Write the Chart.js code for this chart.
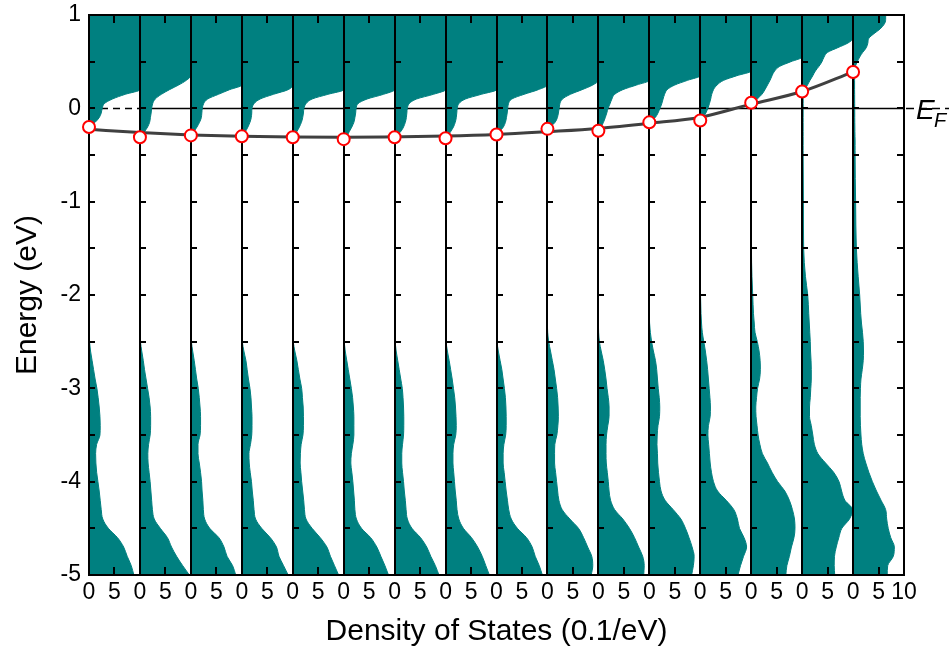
<!DOCTYPE html>
<html>
<head>
<meta charset="utf-8">
<script src="https://cdn.jsdelivr.net/npm/chart.js@4/dist/chart.umd.min.js"></script>
<style>html,body{margin:0;padding:0;background:#fff;}canvas{display:block;}</style>
</head>
<body>
<canvas id="c" width="949" height="651"></canvas>
<script>
// Energy grid (eV), shared by all 16 panels
const energy = [-5.0,-4.9,-4.8,-4.7,-4.6,-4.5,-4.4,-4.3,-4.2,-4.1,-4.0,-3.9,-3.8,-3.7,-3.6,-3.5,-3.4,-3.3,-3.2,-3.1,-3.0,-2.9,-2.8,-2.7,-2.6,-2.5,-2.4,-2.3,-2.2,
  -2.0,-1.8,-1.5,-1.0,
  -0.5,-0.45,-0.4,-0.35,-0.3,-0.25,-0.2,-0.15,-0.1,-0.05,0,0.05,0.1,0.15,0.2,0.25,0.3,0.35,0.4,0.45,0.5,0.55,0.6,0.65,0.7,0.75,0.8,0.85,0.9,0.95,1.0];

// Density of states (0.1/eV) per panel, values of 10 mean the panel is filled
const dos01 = [8.8,8.3,7.5,6.8,5.6,3.8,2.7,2.4,2.2,2.0,1.75,1.5,1.35,1.3,1.5,2.15,2.2,2.15,2.0,1.8,1.55,1.2,0.9,0.6,0.3,0.1,0,0,0, 0,0,0,0,
  0,0,0,0,0,0,0.2,1.2,2.0,2.4,2.6,3.0,4.6,7.1,10,10,10,10,10,10,10,10,10,10,10,10,10,10,10,10,10];
const dos02 = [9.7,8.4,7.2,6.2,5.4,4.0,2.8,2.45,2.3,2.15,2.0,1.8,1.6,1.55,1.7,2.0,2.1,2.1,2.0,1.8,1.5,1.2,0.9,0.65,0.35,0.1,0,0,0, 0,0,0,0,
  0,0,0,0,0.1,0.9,1.5,1.9,2.05,2.2,2.3,2.5,3.0,4.2,5.8,7.6,9.1,10,10,10,10,10,10,10,10,10,10,10,10,10,10];
const dos03 = [8.8,8.2,7.1,6.5,5.5,3.7,2.7,2.45,2.35,2.2,2.1,1.9,1.65,1.4,1.4,1.8,1.9,1.9,1.8,1.65,1.45,1.15,0.9,0.65,0.35,0.1,0,0,0, 0,0,0,0,
  0,0,0,0,0.05,0.6,1.2,1.7,2.05,2.15,2.25,2.5,3.3,5.4,7.6,10,10,10,10,10,10,10,10,10,10,10,10,10,10,10,10];
const dos04 = [9.1,8.2,7.3,6.8,5.6,3.9,2.7,2.4,2.25,2.05,1.9,1.65,1.45,1.4,1.7,1.95,2.0,2.0,1.9,1.8,1.6,1.3,1.05,0.8,0.4,0.1,0,0,0, 0,0,0,0,
  0,0,0,0,0.05,0.7,1.2,1.6,1.85,1.95,2.0,2.4,3.6,6.2,9.1,10,10,10,10,10,10,10,10,10,10,10,10,10,10,10,10];
const dos05 = [9.0,8.2,7.4,6.7,5.4,3.8,2.6,2.3,2.15,1.95,1.75,1.6,1.45,1.5,1.65,2.0,2.1,2.1,2.05,1.9,1.75,1.4,1.1,0.8,0.4,0.1,0,0,0, 0,0,0,0,
  0,0,0,0,0.1,0.8,1.3,1.7,1.95,2.1,2.2,2.6,3.8,6.9,10,10,10,10,10,10,10,10,10,10,10,10,10,10,10,10,10];
const dos06 = [8.8,8.1,7.3,6.5,5.3,3.5,2.5,2.2,2.1,1.95,1.8,1.6,1.4,1.5,1.8,2.0,2.0,2.0,1.9,1.75,1.5,1.2,0.9,0.6,0.3,0.1,0,0,0, 0,0,0,0,
  0,0,0,0,0.6,1.1,1.6,2.0,2.2,2.35,2.45,2.8,4.6,7.8,10,10,10,10,10,10,10,10,10,10,10,10,10,10,10,10,10];
const dos07 = [8.7,8.0,7.1,6.3,5.1,3.4,2.5,2.25,2.1,1.9,1.75,1.55,1.4,1.4,1.55,1.75,1.8,1.8,1.75,1.65,1.5,1.2,0.9,0.6,0.3,0.1,0,0,0, 0,0,0,0,
  0,0,0,0,0.2,1.2,1.75,2.1,2.3,2.4,2.5,2.85,4.3,7.6,10,10,10,10,10,10,10,10,10,10,10,10,10,10,10,10,10];
const dos08 = [8.6,7.9,7.2,6.3,5.1,3.5,2.6,2.25,2.1,1.9,1.75,1.6,1.45,1.45,1.6,2.0,2.1,2.05,1.95,1.8,1.55,1.3,1.0,0.7,0.35,0.1,0,0,0, 0,0,0,0,
  0,0,0,0,0.35,1.0,1.55,1.9,2.1,2.2,2.3,2.6,3.9,7.0,10,10,10,10,10,10,10,10,10,10,10,10,10,10,10,10,10];
const dos09 = [9.0,8.4,7.6,7.0,5.9,4.1,2.9,2.4,2.15,1.9,1.7,1.5,1.3,1.3,1.45,1.8,1.9,1.9,1.85,1.75,1.55,1.3,1.05,0.7,0.35,0.1,0,0,0, 0,0,0,0,
  0,0,0,0,0,0.6,1.35,1.75,1.95,2.1,2.2,2.35,3.0,5.4,8.2,10,10,10,10,10,10,10,10,10,10,10,10,10,10,10,10];
const dos10 = [8.6,8.9,8.7,7.9,7.1,6.1,4.4,2.9,2.25,2.0,1.8,1.6,1.4,1.4,1.45,1.85,2.05,2.15,2.1,2.0,1.8,1.55,1.3,0.95,0.6,0.25,0.05,0,0, 0,0,0,0,
  0,0,0,0,0,0,0.6,1.5,1.95,2.15,2.3,2.45,2.95,4.5,6.8,8.9,10,10,10,10,10,10,10,10,10,10,10,10,10,10,10];
const dos11 = [8.9,9.0,8.7,7.9,7.1,6.1,4.8,3.2,2.4,2.1,1.95,1.75,1.55,1.5,1.5,1.6,1.85,2.1,2.1,1.95,1.7,1.5,1.25,0.95,0.55,0.2,0.05,0,0, 0,0,0,0,
  0,0,0,0,0,0,0.55,1.0,1.35,1.65,1.9,2.3,2.65,3.2,4.8,7.5,10,10,10,10,10,10,10,10,10,10,10,10,10,10,10];
const dos12 = [8.3,8.65,8.8,8.4,7.8,7.1,6.2,4.7,3.1,2.3,2.0,1.8,1.65,1.6,1.5,1.55,1.7,2.0,2.05,1.95,1.75,1.6,1.45,1.2,0.8,0.45,0.2,0.05,0, 0,0,0,0,
  0,0,0,0,0,0,0,0.1,1.15,1.7,2.1,2.45,2.7,3.0,3.5,5.0,7.5,10,10,10,10,10,10,10,10,10,10,10,10,10,10];
const dos13 = [7.4,7.9,8.5,9.1,8.6,7.7,7.3,6.6,5.1,3.4,2.6,2.2,1.95,1.8,1.65,1.5,1.6,1.95,2.0,1.9,1.75,1.6,1.45,1.25,1.0,0.7,0.4,0.25,0.15, 0.05,0,0,0,
  0,0,0,0,0,0,0,0,0.5,1.1,1.5,1.8,2.05,2.25,2.6,3.3,4.6,7.2,10,10,10,10,10,10,10,10,10,10,10,10,10];
const dos14 = [6.8,7.0,7.5,7.9,8.4,8.6,8.5,8.1,7.5,6.6,5.2,4.1,3.2,2.2,1.7,1.35,1.15,0.95,0.9,1.05,1.25,1.65,1.8,1.75,1.55,1.2,0.75,0.6,0.45, 0.3,0.15,0.05,0.05,
  0.05,0.05,0.05,0.05,0.05,0.05,0.05,0.05,0.05,0.05,0.05,0.1,1.2,2.1,2.7,3.2,3.7,4.1,4.6,5.6,7.8,10,10,10,10,10,10,10,10,10,10];
const dos15 = [6.4,6.3,6.35,6.7,7.2,7.8,9.3,9.9,8.4,7.75,7.25,6.2,4.6,3.1,2.4,2.1,1.8,1.45,1.45,1.6,1.7,1.8,1.8,1.75,1.65,1.6,1.5,1.4,1.3, 1.1,0.65,0.3,0.25,
  0.2,0.2,0.2,0.2,0.2,0.2,0.2,0.2,0.2,0.2,0.2,0.2,0.2,0.2,0.5,1.05,1.55,2.1,2.6,3.3,3.9,4.3,5.0,7.0,9.0,10,10,10,10,10,10];
const dos16 = [6.7,6.8,7.9,8.1,7.4,6.9,6.6,6.4,5.5,4.6,3.8,3.1,2.5,2.0,1.7,1.55,1.45,1.4,1.4,1.4,1.45,1.55,1.8,2.0,2.05,2.0,1.85,1.65,1.5, 1.3,1.0,0.65,0.5,
  0.4,0.4,0.4,0.4,0.38,0.36,0.35,0.34,0.33,0.33,0.32,0.32,0.31,0.31,0.3,0.3,0.3,0.3,0.3,0.45,0.85,1.3,1.9,2.6,2.9,3.1,4.1,5.3,6.1,6.4,6.4];

const panels = [dos01,dos02,dos03,dos04,dos05,dos06,dos07,dos08,dos09,dos10,dos11,dos12,dos13,dos14,dos15,dos16];

// Conduction band minimum per panel (red circles) and the smooth fit (gray line), eV
const cbmEnergy = [-0.20,-0.31,-0.29,-0.30,-0.31,-0.33,-0.31,-0.32,-0.28,-0.22,-0.24,-0.15,-0.13,0.06,0.18,0.39];
const fitEnergy = [-0.225,-0.26,-0.285,-0.30,-0.307,-0.31,-0.305,-0.297,-0.28,-0.25,-0.215,-0.16,-0.095,0.045,0.18,0.39];

// Tick label texts
const panelTickLabels = ['0','5'];
const lastTickLabel = '10';
const panelWidth = 10;

const TEAL = 'rgb(0,128,128)';
const FONT = '"Liberation Sans", Arial, Helvetica, sans-serif';
Chart.defaults.font.family = FONT;
Chart.defaults.color = '#000';

const datasets = [];
datasets.push({
  label: 'CBM',
  data: cbmEnergy.map((v, i) => ({x: i * panelWidth, y: v})),
  showLine: false,
  pointRadius: 6,
  pointBorderWidth: 2,
  pointBorderColor: '#ff0000',
  pointBackgroundColor: '#ffffff',
  clip: false
});
datasets.push({
  label: 'fit',
  data: fitEnergy.map((v, i) => ({x: i * panelWidth, y: v})),
  borderColor: '#404040',
  borderWidth: 3,
  pointRadius: 0,
  cubicInterpolationMode: 'monotone',
  fill: false
});
panels.forEach((arr, p) => {
  datasets.push({
    label: 'DOS ' + (p + 1),
    indexAxis: 'y',
    data: energy.map((e, k) => ({x: p * panelWidth + Math.min(arr[k], panelWidth), y: e})),
    borderColor: TEAL,
    borderWidth: 1,
    backgroundColor: TEAL,
    pointRadius: 0,
    cubicInterpolationMode: 'monotone',
    fill: {value: p * panelWidth}
  });
});

const framePlugin = {
  id: 'framePlugin',
  beforeDatasetsDraw(chart) {
    const {ctx, chartArea: a, scales: {x, y}} = chart;
    const y0 = Math.round(y.getPixelForValue(0)) + 0.5;
    ctx.save();
    ctx.strokeStyle = '#000';
    ctx.lineWidth = 1.5;
    ctx.setLineDash([7, 5]);
    ctx.beginPath(); ctx.moveTo(a.left, y0); ctx.lineTo(x.getPixelForValue(panelWidth), y0); ctx.stroke();
    ctx.setLineDash([]);
    ctx.beginPath(); ctx.moveTo(x.getPixelForValue(panelWidth), y0); ctx.lineTo(a.right, y0); ctx.stroke();
    ctx.restore();
  },
  beforeDatasetDraw(chart, args) {
    if (args.index !== 1) return;
    const {ctx, chartArea: a, scales: {x, y}} = chart;
    ctx.save();
    ctx.strokeStyle = '#000';
    ctx.lineWidth = 2;
    ctx.beginPath();
    x.ticks.forEach(t => {
      if (t.value % panelWidth === 0) {
        const px = Math.round(x.getPixelForValue(t.value));
        ctx.moveTo(px, a.top); ctx.lineTo(px, a.bottom);
      }
    });
    ctx.moveTo(a.left - 1, Math.round(a.top)); ctx.lineTo(a.right + 1, Math.round(a.top));
    ctx.moveTo(a.left - 1, Math.round(a.bottom)); ctx.lineTo(a.right + 1, Math.round(a.bottom));
    const maxV = x.max;
    y.ticks.forEach(t => {
      if (t.value <= y.min || t.value >= y.max) return;
      const py = Math.round(y.getPixelForValue(t.value));
      x.ticks.forEach(tx => {
        if (tx.value % panelWidth !== 0) return;
        const px = Math.round(x.getPixelForValue(tx.value));
        if (tx.value === maxV) { ctx.moveTo(px, py); ctx.lineTo(px - 7, py); }
        else { ctx.moveTo(px, py); ctx.lineTo(px + 6, py); }
      });
    });
    x.ticks.forEach(t => {
      if (t.value % panelWidth === 0) return;
      const px = Math.round(x.getPixelForValue(t.value));
      ctx.moveTo(px, a.top); ctx.lineTo(px, a.top + 8);
      ctx.moveTo(px, a.bottom); ctx.lineTo(px, a.bottom - 8);
    });
    ctx.stroke();
    ctx.restore();
  },
  afterDraw(chart) {
    const {ctx, chartArea: a, scales: {y}} = chart;
    const y0 = Math.round(y.getPixelForValue(0)) + 0.5;
    ctx.save();
    ctx.strokeStyle = '#000';
    ctx.lineWidth = 1.5;
    ctx.setLineDash([8, 5]);
    ctx.beginPath(); ctx.moveTo(a.right + 2, y0); ctx.lineTo(chart.width, y0); ctx.stroke();
    ctx.setLineDash([]);
    ctx.fillStyle = '#000';
    ctx.textBaseline = 'alphabetic';
    ctx.textAlign = 'left';
    ctx.font = 'italic 28px ' + FONT;
    ctx.fillText('E', a.right + 12, y0 + 10);
    ctx.font = 'italic 20px ' + FONT;
    ctx.fillText('F', a.right + 30, y0 + 18.5);
    ctx.restore();
  }
};

new Chart(document.getElementById('c'), {
  type: 'line',
  data: {datasets},
  options: {
    responsive: false,
    devicePixelRatio: 1,
    animation: false,
    events: [],
    layout: {padding: {top: 15, right: 45, bottom: 0, left: 0}},
    plugins: {legend: {display: false}, tooltip: {enabled: false}},
    scales: {
      x: {
        type: 'linear',
        min: 0,
        max: 160,
        grid: {display: false, drawTicks: false},
        border: {display: false},
        ticks: {
          stepSize: 5,
          autoSkip: false,
          maxRotation: 0,
          padding: 4,
          font: {size: 23},
          color: '#000',
          callback: (v) => v === 160 ? lastTickLabel : panelTickLabels[Math.round(v / 5) % 2]
        },
        title: {display: true, text: 'Density of States (0.1/eV)', font: {size: 30}, color: '#000', padding: {top: 0, bottom: 1}},
        afterFit: (s) => { s.height = 76; s.paddingLeft = 0; s.paddingRight = 0; }
      },
      y: {
        type: 'linear',
        min: -5,
        max: 1,
        grid: {display: false, drawTicks: false},
        border: {display: false},
        ticks: {
          stepSize: 0.5,
          autoSkip: false,
          padding: 8,
          font: {size: 23},
          color: '#000',
          callback: (v) => Math.abs(v - Math.round(v)) < 1e-6 ? String(Math.round(v)) : ''
        },
        title: {display: true, text: 'Energy (eV)', font: {size: 30}, color: '#000', padding: {top: 10, bottom: 0}},
        afterFit: (s) => { s.width = 89; s.paddingTop = 0; s.paddingBottom = 0; }
      }
    }
  },
  plugins: [framePlugin]
});
</script>
</body>
</html>
